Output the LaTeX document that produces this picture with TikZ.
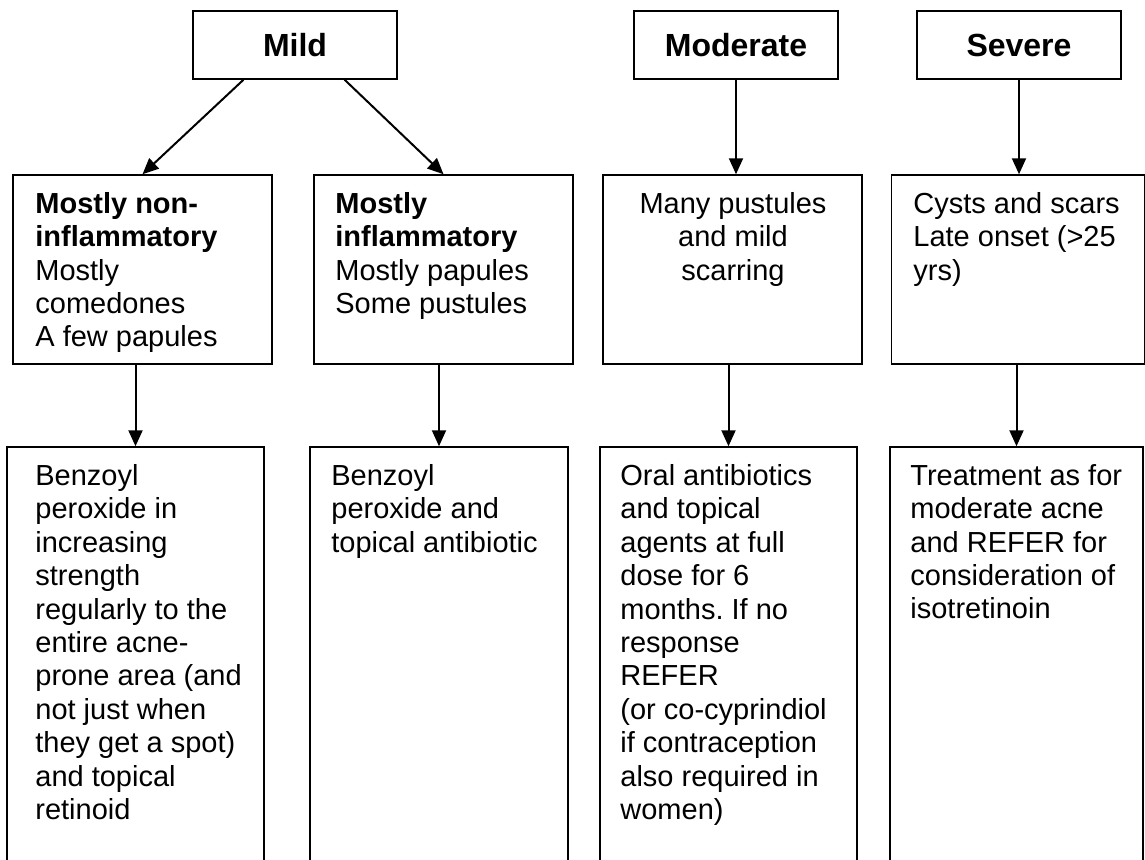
\documentclass[tikz,border=0pt]{standalone}
\usepackage{fontspec}
\setmainfont{Liberation Sans}
\usepackage{tikz}
\usetikzlibrary{arrows.meta}

\begin{document}
\begin{tikzpicture}[x=0.5pt, y=-0.5pt]
        \useasboundingbox (0,0) rectangle (1145,859);

        % grade boxes
        \begin{scope}[every node/.style = {rectangle, draw, line width=0.75pt, inner sep=0pt,
                        minimum width=102pt, minimum height=34pt,
                        font=\fontsize{16}{18.4}\selectfont\bfseries}]
            \node (mild)     at (295, 45)   {Mild};
            \node (moderate) at (736, 45)   {Moderate};
            \node (severe)   at (1019, 45)  {Severe};
        \end{scope}

        % features and treatment boxes
        \begin{scope}[every node/.style = {rectangle, draw, line width=0.75pt, inner sep=0pt}]
            \node[minimum width=129.5pt, minimum height=94.5pt] (b1) at (142.5, 269.5) {};
            \node[minimum width=129.5pt, minimum height=94.5pt] (b2) at (443.5, 269.5) {};
            \node[minimum width=129.5pt, minimum height=94.5pt] (b3) at (732.5, 269.5) {};
            \node[minimum width=126.5pt, minimum height=94.5pt] (b4) at (1018, 269.5)  {};

            \node[minimum width=128.5pt, minimum height=226.5pt] (c1) at (135.5, 673.5) {};
            \node[minimum width=129pt,   minimum height=226.5pt] (c2) at (439, 673.5)   {};
            \node[minimum width=128.5pt, minimum height=226.5pt] (c3) at (728.5, 673.5) {};
            \node[minimum width=126.5pt, minimum height=226.5pt] (c4) at (1016.5, 673.5) {};
        \end{scope}

        % texts
        \begin{scope}[every node/.style = {align=left, inner sep=0pt, anchor=north west,
                        font=\fontsize{14.5}{16.7}\selectfont}]
            \node (t1) at (35, 189.6)  {\strut\textbf{Mostly non-}\\\textbf{inflammatory}\\Mostly\\comedones\\A few papules};
            \node (t2) at (335, 189.6) {\strut\textbf{Mostly}\\\textbf{inflammatory}\\Mostly papules\\Some pustules};
            \node[align=center, anchor=north] (t3) at (733, 189.6) {\strut Many pustules\\and mild\\scarring};
            \node (t4) at (913, 189.6) {\strut Cysts and scars\\Late onset (>25\\yrs)};

            \node (u1) at (35, 461.6)  {\strut Benzoyl\\peroxide in\\increasing\\strength\\regularly to the\\entire acne-\\prone area (and\\not just when\\they get a spot)\\and topical\\retinoid};
            \node (u2) at (331, 461.6) {\strut Benzoyl\\peroxide and\\topical antibiotic};
            \node (u3) at (620, 461.6) {\strut Oral antibiotics\\and topical\\agents at full\\dose for 6\\months.\ If no\\response\\REFER\\(or co-cyprindiol\\if contraception\\also required in\\women)};
            \node (u4) at (910, 461.6) {\strut Treatment as for\\moderate acne\\and REFER for\\consideration of\\isotretinoin};
        \end{scope}

        \begin{scope}[>={Triangle[length=8pt, width=7pt]},
                        every edge/.style={draw, line width=1pt}]
            \path [->] (mild.214) edge (b1.north);
            \path [->] (mild.325) edge (b2.north);
            \path [->] (moderate.south) edge (moderate.south |- b3.north);
            \path [->] (severe.south) edge (severe.south |- b4.north);

            \path [->] (c1.north |- b1.south) edge (c1.north);
            \path [->] (c2.north |- b2.south) edge (c2.north);
            \path [->] (c3.north |- b3.south) edge (c3.north);
            \path [->] (c4.north |- b4.south) edge (c4.north);
        \end{scope}
    \end{tikzpicture}
\end{document}
